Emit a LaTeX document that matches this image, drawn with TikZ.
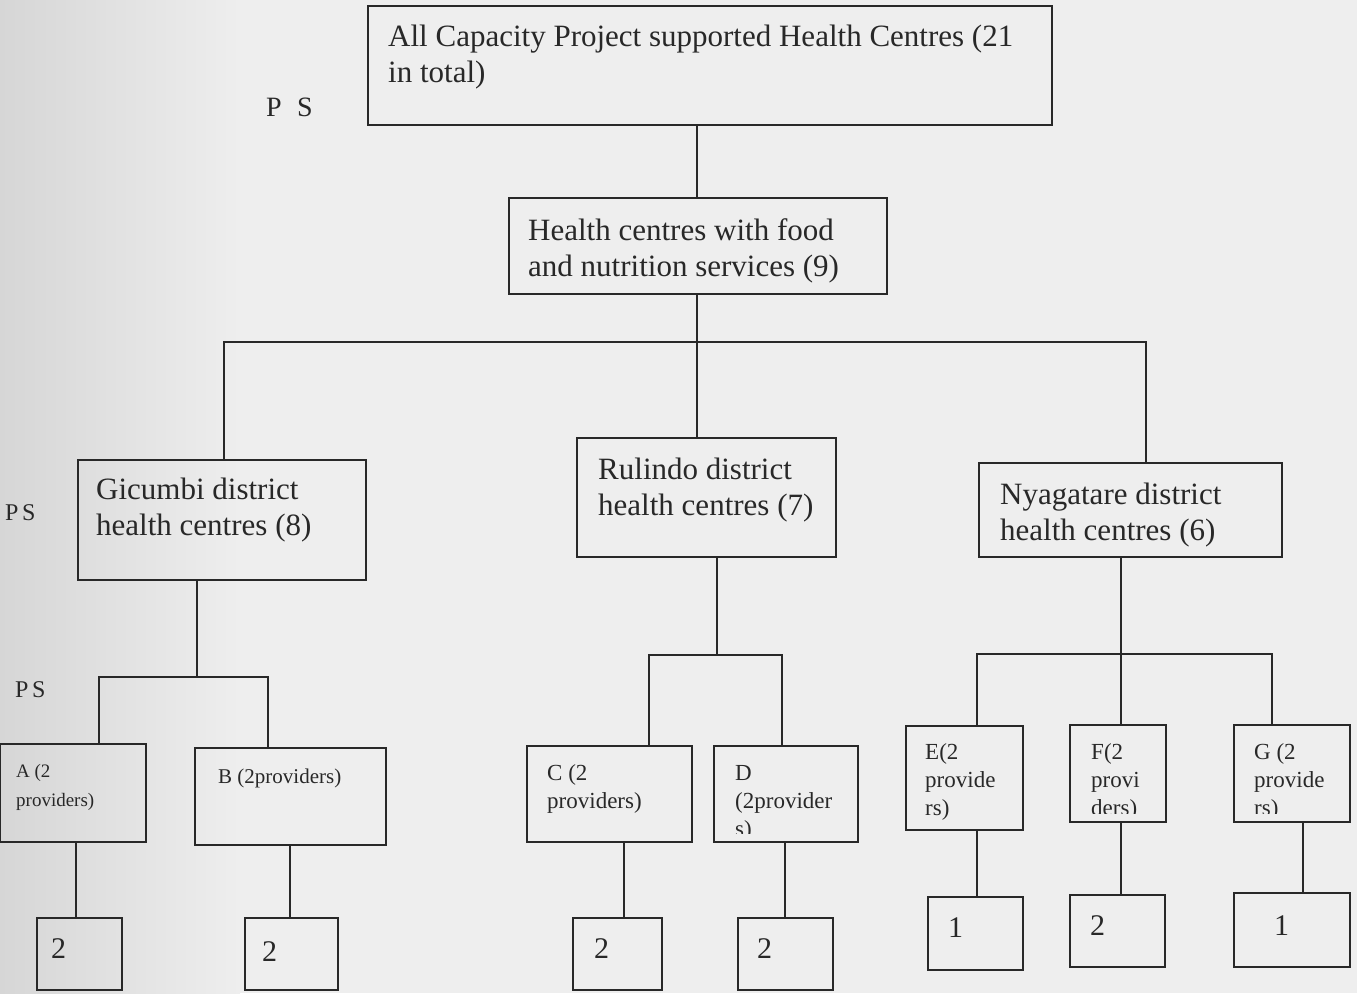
\documentclass[tikz,border=0pt]{standalone}
\usepackage{fontspec}
\setmainfont{Liberation Serif}
\usetikzlibrary{fit}
\definecolor{bg}{RGB}{238,238,238}
\definecolor{bgdark}{RGB}{214,214,214}
\definecolor{ink}{RGB}{40,40,40}
\begin{document}
\begin{tikzpicture}[x=1pt,y=-1pt,
  box/.style={draw=ink,line width=1.8pt,inner sep=0pt,outer sep=0pt},
  conn/.style={draw=ink,line width=1.6pt},
  big/.style={text=ink,inner sep=0pt,anchor=base west,align=left,font=\fontsize{31}{36}\selectfont},
  mid/.style={text=ink,inner sep=0pt,anchor=base west,align=left,font=\fontsize{23}{28}\selectfont},
  small/.style={text=ink,inner sep=0pt,anchor=base west,align=left,font=\fontsize{19}{29}\selectfont},
  num/.style={text=ink,inner sep=0pt,anchor=base west,font=\fontsize{30}{36}\selectfont},
  ps/.style={text=ink,inner sep=0pt,anchor=base west,font=\fontsize{28}{30}\selectfont}]
\fill[bg] (0,0) rectangle (1357,993);
\shade[left color=bgdark,right color=bg] (0,0) rectangle (240,993);
\useasboundingbox (0,0) rectangle (1357,993);
% helper to build boxes
\newcommand\mkbox[5]{\coordinate (#1-nw) at (#2,#3); \coordinate (#1-se) at (#4,#5);
  \node[box,fit=(#1-nw)(#1-se)] (#1) {};}
% ---- boxes
\mkbox{top}{368}{6}{1052}{125}
\mkbox{food}{509}{198}{887}{294}
\mkbox{gic}{78}{460}{366}{580}
\mkbox{rul}{577}{438}{836}{557}
\mkbox{nya}{979}{463}{1282}{557}
\mkbox{A}{0}{744}{146}{842}
\mkbox{B}{195}{748}{386}{845}
\mkbox{C}{527}{746}{692}{842}
\mkbox{D}{714}{746}{858}{842}
\mkbox{E}{906}{726}{1023}{830}
\mkbox{F}{1070}{725}{1166}{822}
\mkbox{G}{1234}{725}{1350}{822}
\mkbox{a2}{37}{918}{122}{990}
\mkbox{b2}{245}{918}{338}{990}
\mkbox{c2}{573}{918}{662}{990}
\mkbox{d2}{738}{918}{833}{990}
\mkbox{e1}{928}{897}{1023}{970}
\mkbox{f2}{1070}{895}{1165}{967}
\mkbox{g1}{1234}{893}{1350}{967}
% ---- junction coordinates
\coordinate (j1) at (697,342);
\coordinate (jg) at (197,677);
\coordinate (jr) at (717,655);
\coordinate (jn) at (1121,654);
% ---- connectors
\draw[conn] (top.south -| j1) -- (food.north -| j1);
\draw[conn] (food.south -| j1) -- (j1) -- (rul.north -| j1);
\draw[conn] (gic.north -| 224,0) |- (j1) -| (nya.north -| 1146,0);
\draw[conn] (gic.south -| jg) -- (jg);
\draw[conn] (A.north -| 99,0) |- (jg) -| (B.north -| 268,0);
\draw[conn] (rul.south -| jr) -- (jr);
\draw[conn] (C.north -| 649,0) |- (jr) -| (D.north -| 782,0);
\draw[conn] (nya.south -| jn) -- (jn);
\draw[conn] (E.north -| 977,0) |- (jn) -| (G.north -| 1272,0);
\draw[conn] (jn) -- (F.north -| jn);
\draw[conn] (A.south -| 76,0) -- (a2.north -| 76,0);
\draw[conn] (B.south -| 290,0) -- (b2.north -| 290,0);
\draw[conn] (C.south -| 624,0) -- (c2.north -| 624,0);
\draw[conn] (D.south -| 785,0) -- (d2.north -| 785,0);
\draw[conn] (E.south -| 977,0) -- (e1.north -| 977,0);
\draw[conn] (F.south -| 1121,0) -- (f2.north -| 1121,0);
\draw[conn] (G.south -| 1303,0) -- (g1.north -| 1303,0);
% ---- texts (anchor = baseline of the last line)
\node[big] (top-t) at (388,82) {All Capacity Project supported Health Centres (21\\in total)};
\node[ps] (ps1) at (266,116) {P\hspace{0.55em}S};
\node[big] (food-t) at (528,276) {Health centres with food\\and nutrition services (9)};
\node[big] (gic-t) at (96,535) {Gicumbi district\\health centres (8)};
\node[big] (rul-t) at (598,515) {Rulindo district\\health centres (7)};
\node[big] (nya-t) at (1000,540) {Nyagatare district\\health centres (6)};
\node[ps,font=\fontsize{24}{28}\selectfont] (ps2) at (5,520) {P\hspace{0.15em}S};
\node[ps,font=\fontsize{24}{28}\selectfont] (ps3) at (15,697) {P\hspace{0.15em}S};
\node[small] (A-t) at (16,806) {A (2\\providers)};
\node[mid,font=\fontsize{21}{28}\selectfont] (B-t) at (218,783) {B (2providers)};
\node[mid] (C-t) at (547,808) {C (2\\providers)};
\begin{scope}
  \clip (D.north west) rectangle ([yshift=9pt]D.south east);
  \node[mid] (D-t) at (735,836) {D\\(2provider\\s)};
\end{scope}
\node[mid] (E-t) at (925,815) {E(2\\provide\\rs)};
\begin{scope}
  \clip (F.north west) rectangle ([yshift=9pt]F.south east);
  \node[mid] (F-t) at (1091,815) {F(2\\provi\\ders)};
\end{scope}
\begin{scope}
  \clip (G.north west) rectangle ([yshift=9pt]G.south east);
  \node[mid] (G-t) at (1254,815) {G (2\\provide\\rs)};
\end{scope}
\node[num] (a2-t) at (51,958) {2};
\node[num] (b2-t) at (262,961) {2};
\node[num] (c2-t) at (594,958) {2};
\node[num] (d2-t) at (757,958) {2};
\node[num] (e1-t) at (948,937) {1};
\node[num] (f2-t) at (1090,935) {2};
\node[num] (g1-t) at (1274,935) {1};
\end{tikzpicture}
\end{document}
